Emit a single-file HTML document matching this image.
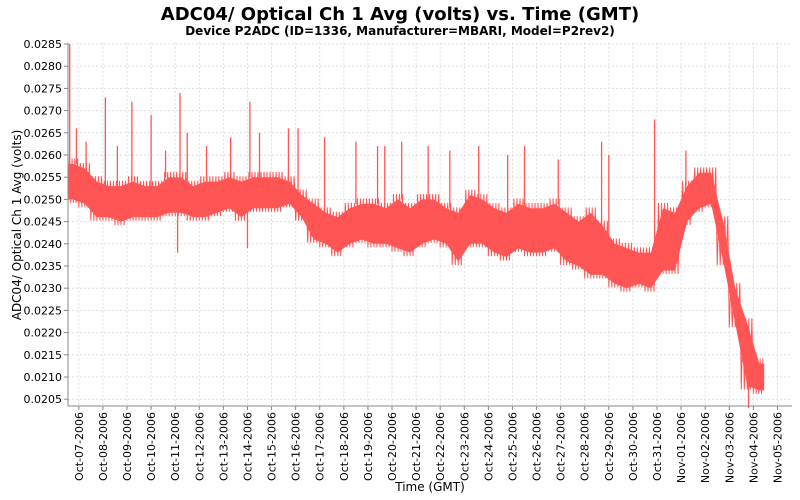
<!DOCTYPE html>
<html><head><meta charset="utf-8"><style>
body{margin:0;background:#fff;font-family:"Liberation Sans","DejaVu Sans",sans-serif}
</style></head><body>
<svg id="chart" width="800" height="500" xmlns="http://www.w3.org/2000/svg" style="display:block">
<rect width="800" height="500" fill="#fff"/>
<text x="400" y="20" text-anchor="middle" font-size="18" font-weight="bold" font-family="DejaVu Sans, sans-serif">ADC04/ Optical Ch 1 Avg (volts) vs. Time (GMT)</text>
<text x="400" y="35" text-anchor="middle" font-size="12" font-weight="bold" font-family="DejaVu Sans, sans-serif">Device P2ADC (ID=1336, Manufacturer=MBARI, Model=P2rev2)</text>
<g id="grid"></g>
<g id="series"></g>
<g id="axes"></g>
<text transform="translate(21,225) rotate(-90)" text-anchor="middle" font-size="12" font-family="DejaVu Sans, sans-serif">ADC04/ Optical Ch 1 Avg (volts)</text>
<text x="430" y="491" text-anchor="middle" font-size="12" font-family="DejaVu Sans, sans-serif">Time (GMT)</text>
</svg>
<script>
const yTicks=[0.0205,0.0210,0.0215,0.0220,0.0225,0.0230,0.0235,0.0240,0.0245,0.0250,0.0255,0.0260,0.0265,0.0270,0.0275,0.0280,0.0285];
const xTickLabels=["Oct-07-2006","Oct-08-2006","Oct-09-2006","Oct-10-2006","Oct-11-2006","Oct-12-2006","Oct-13-2006","Oct-14-2006","Oct-15-2006","Oct-16-2006","Oct-17-2006","Oct-18-2006","Oct-19-2006","Oct-20-2006","Oct-21-2006","Oct-22-2006","Oct-23-2006","Oct-24-2006","Oct-25-2006","Oct-26-2006","Oct-27-2006","Oct-28-2006","Oct-29-2006","Oct-30-2006","Oct-31-2006","Nov-01-2006","Nov-02-2006","Nov-03-2006","Nov-04-2006","Nov-05-2006"];
// half-day buckets, day counted as October day (Nov 1 = 32)
const bucketStart=[6.5,7,7.5,8,8.5,9,9.5,10,10.5,11,11.5,12,12.5,13,13.5,14,14.5,15,15.5,16,16.5,17,17.5,18,18.5,19,19.5,20,20.5,21,21.5,22,22.5,23,23.5,24,24.5,25,25.5,26,26.5,27,27.5,28,28.5,29,29.5,30,30.5,31,31.5,32,32.5,33,33.5,34,34.5,35];
const bandHi=[.0258,.0257,.0254,.0253,.0253,.0254,.0253,.0253,.0255,.0255,.0253,.0254,.0254,.0255,.0254,.0255,.0255,.0255,.0254,.0251,.0249,.0247,.0246,.0248,.0249,.0249,.0248,.0250,.0248,.0250,.0250,.0248,.0247,.0251,.0250,.0248,.0247,.0249,.0248,.0248,.0249,.0247,.0245,.0247,.0244,.0240,.0239,.0238,.0238,.0248,.0247,.0253,.0256,.0256,.0245,.0230,.0222,.0213];
const bandLo=[.0250,.0249,.0246,.0246,.0245,.0246,.0246,.0246,.0247,.0247,.0246,.0246,.0247,.0248,.0246,.0248,.0248,.0248,.0249,.0246,.0241,.0240,.0238,.0240,.0241,.0240,.0240,.0239,.0238,.0240,.0241,.0240,.0236,.0240,.0240,.0238,.0237,.0239,.0238,.0238,.0239,.0236,.0235,.0233,.0233,.0231,.0230,.0231,.0230,.0234,.0234,.0245,.0248,.0249,.0236,.0222,.0208,.0207];
const spikeDay=[6.62,6.9,7.3,8.1,8.6,9.2,10.0,10.6,11.2,11.5,12.3,13.3,14.1,14.5,15.7,16.1,17.2,18.5,19.4,19.7,20.4,21.5,22.4,23.6,24.8,25.5,26.9,28.7,29.0,30.9,32.2,11.1,14.0,28.3,34.8];
const spikeVal=[.0285,.0266,.0263,.0273,.0262,.0272,.0269,.0261,.0274,.0265,.0262,.0264,.0272,.0265,.0266,.0266,.0264,.0263,.0262,.0262,.0263,.0262,.0261,.0262,.0260,.0262,.0259,.0263,.0260,.0268,.0261,.0238,.0239,.0233,.0203];

const L=68,R=792,T=42.7,B=406,dayStart=6.55,dayEnd=35.45;
const x=d=>L+(d-6.55)*24.09;
const y=v=>44+(0.0285-v)/0.0005*22.2;
const NS="http://www.w3.org/2000/svg";
function mk(tag,attrs,parent){const e=document.createElementNS(NS,tag);for(const k in attrs)e.setAttribute(k,attrs[k]);parent.appendChild(e);return e;}
const grid=document.getElementById('grid'),axes=document.getElementById('axes'),ser=document.getElementById('series');
mk('rect',{x:L,y:T,width:R-L,height:B-T,fill:'#fff'},grid);
yTicks.forEach(v=>{
 const l=mk('line',{x1:L,x2:R,y1:y(v),y2:y(v),stroke:'#ddd','stroke-dasharray':'2,2'},grid);
 
 
 mk('line',{x1:L-4,x2:L,y1:y(v),y2:y(v),stroke:'#888'},axes);
 const t=mk('text',{x:L-6,y:y(v)+4,'text-anchor':'end','font-size':'11','font-family':'DejaVu Sans, sans-serif'},axes);
 t.textContent=v.toFixed(4);
 
 
});
xTickLabels.forEach((s,i)=>{
 const xx=x(7+i);
 const l=mk('line',{x1:xx,x2:xx,y1:T,y2:B,stroke:'#ddd','stroke-dasharray':'2,2'},grid);
 
 
 mk('line',{x1:xx,x2:xx,y1:B,y2:B+4,stroke:'#888'},axes);
 const t=mk('text',{transform:`translate(${xx+4},${B+6}) rotate(-90)`,'text-anchor':'end','font-size':'11','font-family':'DejaVu Sans, sans-serif'},axes);
 t.textContent=s;
 
 
});
mk('line',{x1:L,x2:L,y1:T,y2:B,stroke:'#888'},axes);
mk('line',{x1:L,x2:R,y1:B,y2:B,stroke:'#888'},axes);
// band polygon through bucket centres
const mid=i=>Math.min(dayEnd,Math.max(dayStart,bucketStart[i]+0.25));
let pts=[[x(dayStart),y(bandHi[0])]];
bucketStart.forEach((d,i)=>pts.push([x(mid(i)),y(bandHi[i])]));
pts.push([x(dayEnd),y(bandHi[bandHi.length-1])],[x(dayEnd),y(bandLo[bandLo.length-1])]);
for(let i=bucketStart.length-1;i>=0;i--)pts.push([x(mid(i)),y(bandLo[i])]);
pts.push([x(dayStart),y(bandLo[0])]);
const band=mk('polygon',{points:pts.map(p=>p.join(',')).join(' '),fill:'#ff5555'},ser);


// jagged texture lines per bucket
let z=[];
bucketStart.forEach((d,i)=>{const d0=Math.max(d,dayStart),d1=Math.min(d+0.5,dayEnd);
 for(let k=0;k<8;k++){const dd=d0+(d1-d0)*k/8;z.push([x(dd),y(k%2?bandHi[i]+0.00012:bandLo[i]-0.00008)]);}});
const zl=mk('polyline',{points:z.map(p=>p.join(',')).join(' '),fill:'none',stroke:'#ff5555','stroke-width':'1'},ser);


spikeDay.forEach((d,i)=>{
 const bi=Math.min(bucketStart.length-1,Math.max(0,Math.floor((d-6.5)/0.5)));
 const base=spikeVal[i]>bandHi[bi]?bandHi[bi]:bandLo[bi];
 const s=mk('line',{x1:x(d),x2:x(d),y1:y(base),y2:Math.max(T,y(spikeVal[i])),stroke:'#ff5555','stroke-width':'1.3'},ser);
 
 
});
</script>
</body></html>
